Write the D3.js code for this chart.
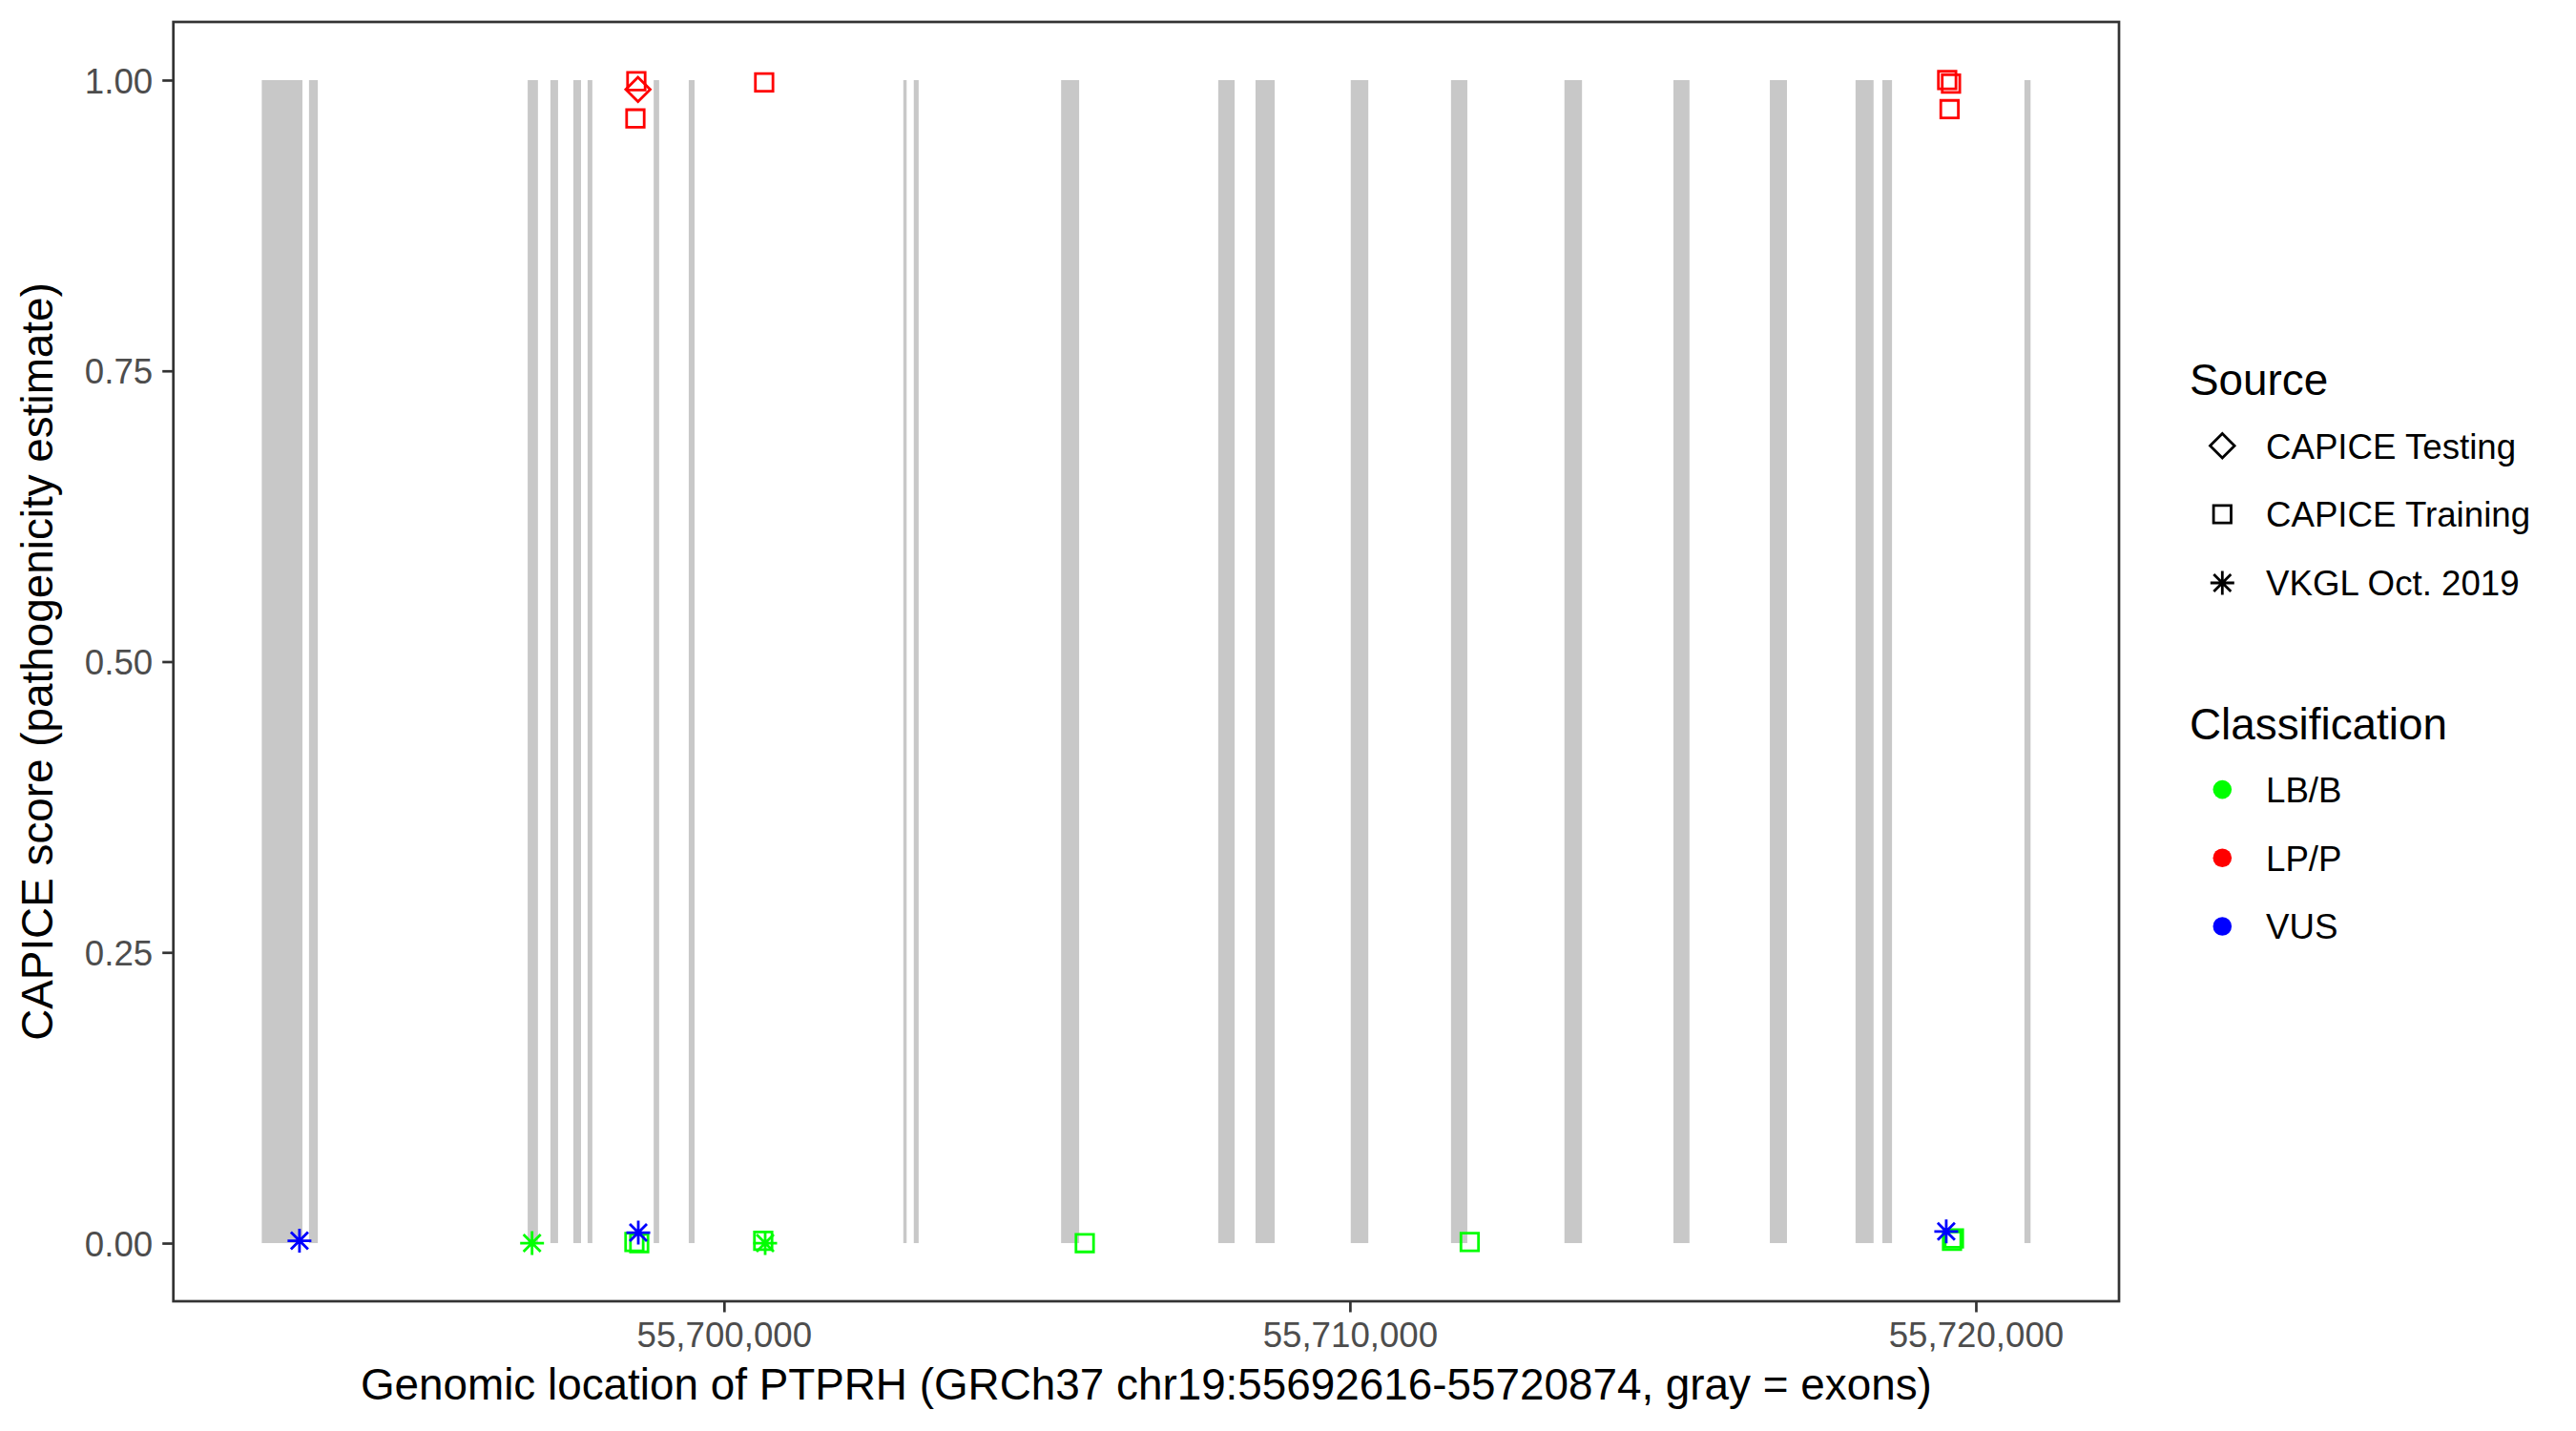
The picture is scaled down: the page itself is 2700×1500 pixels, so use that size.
<!DOCTYPE html>
<html>
<head>
<meta charset="utf-8">
<script src="https://cdn.jsdelivr.net/npm/d3@7"></script>
<style>
  html, body { margin: 0; padding: 0; background: #ffffff; }
  svg { display: block; font-family: "Liberation Sans", Arial, Helvetica, sans-serif; }
</style>
</head>
<body>
<svg id="chart" width="2700" height="1500"></svg>
<script>
// ---- Data ----
const geneStart = 55692616;
const geneEnd = 55720874;

const exonStarts = [55692616, 55693370, 55696864, 55697227, 55697594, 55697821, 55698877, 55699437,
  55702865, 55703032, 55705386, 55707896, 55708492, 55710013, 55711615, 55713427, 55715169,
  55716709, 55718078, 55718506, 55720776];
const exonEnds = [55693265, 55693511, 55697028, 55697349, 55697716, 55697897, 55698964, 55699530,
  55702918, 55703110, 55705674, 55708158, 55708798, 55710294, 55711876, 55713708, 55715425,
  55716982, 55718366, 55718661, 55720874];

const variantPos = [55698569, 55698646, 55698600, 55698585, 55700642, 55700627, 55705764, 55711914,
  55719542, 55719603, 55719580, 55719619, 55719650, 55698626,
  55693218, 55696934, 55698631, 55700658, 55719527];
const variantScore = [0.001, 0.000, 0.999, 0.967, 0.998, 0.002, 0.000, 0.001,
  1.000, 0.997, 0.975, 0.002, 0.004, 0.992,
  0.002, 0.000, 0.009, 0.000, 0.010];
const variantSource = ["CAPICE Training", "CAPICE Training", "CAPICE Training", "CAPICE Training",
  "CAPICE Training", "CAPICE Training", "CAPICE Training", "CAPICE Training",
  "CAPICE Training", "CAPICE Training", "CAPICE Training", "CAPICE Training", "CAPICE Training",
  "CAPICE Testing",
  "VKGL Oct. 2019", "VKGL Oct. 2019", "VKGL Oct. 2019", "VKGL Oct. 2019", "VKGL Oct. 2019"];
const variantClass = ["LB/B", "LB/B", "LP/P", "LP/P", "LP/P", "LB/B", "LB/B", "LB/B",
  "LP/P", "LP/P", "LP/P", "LB/B", "LB/B", "LP/P",
  "VUS", "LB/B", "VUS", "LB/B", "VUS"];

const sourceLevels = ["CAPICE Testing", "CAPICE Training", "VKGL Oct. 2019"];
const classLevels = ["LB/B", "LP/P", "VUS"];
const classColors = ["#00FF00", "#FF0000", "#0000FF"];
const xTicks = [55700000, 55710000, 55720000];
const yTicks = [0, 0.25, 0.5, 0.75, 1];

const xTitle = "Genomic location of PTPRH (GRCh37 chr19:55692616-55720874, gray = exons)";
const yTitle = "CAPICE score (pathogenicity estimate)";

// ---- Layout ----
const panel = { left: 181.7, right: 2221, top: 23, bottom: 1364 };
const baseFont = 45.83, smallFont = 36.67;

const svg = d3.select("#chart");
svg.append("rect").attr("width", 2700).attr("height", 1500).attr("fill", "#ffffff");

const xPad = (geneEnd - geneStart) * 0.05;
const x = d3.scaleLinear().domain([geneStart - xPad, geneEnd + xPad]).range([panel.left, panel.right]);
const y = d3.scaleLinear().domain([-0.05, 1.05]).range([panel.bottom, panel.top]);
const color = d3.scaleOrdinal().domain(classLevels).range(classColors);

// Exons
const exons = exonStarts.map((s, i) => ({ s, e: exonEnds[i] }));
svg.append("g").selectAll("rect").data(exons).join("rect")
  .attr("x", d => x(d.s))
  .attr("width", d => x(d.e) - x(d.s))
  .attr("y", y(1))
  .attr("height", y(0) - y(1))
  .attr("fill", "#C8C8C8");

// Point shapes
const SQ = 9.2, DM = 12.8, AST = 12.5, ASTD = 9, SW = 2.8;
function shapePath(src) {
  if (src === "CAPICE Training") {
    return `M${-SQ},${-SQ}H${SQ}V${SQ}H${-SQ}Z`;
  } else if (src === "CAPICE Testing") {
    return `M0,${-DM}L${DM},0L0,${DM}L${-DM},0Z`;
  } else {
    return `M${-AST},0H${AST}M0,${-AST}V${AST}M${-ASTD},${-ASTD}L${ASTD},${ASTD}M${-ASTD},${ASTD}L${ASTD},${-ASTD}`;
  }
}

const variants = variantPos.map((p, i) => ({
  p, v: variantScore[i], src: variantSource[i], cls: variantClass[i]
}));
svg.append("g").selectAll("path").data(variants).join("path")
  .attr("transform", d => `translate(${x(d.p)},${y(d.v)})`)
  .attr("d", d => shapePath(d.src))
  .attr("fill", "none")
  .attr("stroke", d => color(d.cls))
  .attr("stroke-width", SW)
  .attr("stroke-linecap", "butt");

// Panel border
svg.append("rect")
  .attr("x", panel.left).attr("y", panel.top)
  .attr("width", panel.right - panel.left).attr("height", panel.bottom - panel.top)
  .attr("fill", "none").attr("stroke", "#333333").attr("stroke-width", 2.7);

// Axes
const xAxis = svg.append("g").attr("transform", `translate(0,${panel.bottom})`)
  .call(d3.axisBottom(x).tickValues(xTicks).tickFormat(d3.format(",")).tickSize(11.5).tickPadding(10));
const yAxis = svg.append("g").attr("transform", `translate(${panel.left},0)`)
  .call(d3.axisLeft(y).tickValues(yTicks).tickFormat(d3.format(".2f")).tickSize(11.5).tickPadding(10));
[xAxis, yAxis].forEach(a => {
  a.select(".domain").remove();
  a.selectAll(".tick line").attr("stroke", "#333333").attr("stroke-width", 2.7);
  a.selectAll(".tick text").attr("fill", "#4D4D4D").attr("font-size", smallFont)
    .attr("font-family", "Liberation Sans, Arial, sans-serif");
});
yAxis.selectAll(".tick text").attr("dy", "0.36em");

// Axis titles
svg.append("text")
  .attr("x", (panel.left + panel.right) / 2).attr("y", 1467)
  .attr("text-anchor", "middle").attr("font-size", baseFont).attr("fill", "#000")
  .text(xTitle);
svg.append("text")
  .attr("transform", `translate(55,${(panel.top + panel.bottom) / 2}) rotate(-90)`)
  .attr("text-anchor", "middle").attr("font-size", baseFont).attr("fill", "#000")
  .text(yTitle);

// Legends
const legX = 2295, keyX = 2329.3, textX = 2375;
const leg = svg.append("g");
leg.append("text").attr("x", legX).attr("y", 414).attr("font-size", baseFont).attr("fill", "#000").text("Source");
const srcY = [467.3, 539, 611];
leg.selectAll("path.src").data(sourceLevels).join("path").attr("class", "src")
  .attr("transform", (d, i) => `translate(${keyX},${srcY[i]})`)
  .attr("d", d => shapePath(d))
  .attr("fill", "none").attr("stroke", "#000").attr("stroke-width", SW);
leg.selectAll("text.src").data(sourceLevels).join("text").attr("class", "src")
  .attr("x", textX).attr("y", (d, i) => srcY[i]).attr("dy", "0.36em")
  .attr("font-size", smallFont).attr("fill", "#000").text(d => d);

leg.append("text").attr("x", legX).attr("y", 774.5).attr("font-size", baseFont).attr("fill", "#000").text("Classification");
const clsY = [827.6, 899.3, 971];
leg.selectAll("circle.cls").data(classLevels).join("circle").attr("class", "cls")
  .attr("cx", keyX).attr("cy", (d, i) => clsY[i]).attr("r", 9.8)
  .attr("fill", d => color(d));
leg.selectAll("text.cls").data(classLevels).join("text").attr("class", "cls")
  .attr("x", textX).attr("y", (d, i) => clsY[i]).attr("dy", "0.36em")
  .attr("font-size", smallFont).attr("fill", "#000").text(d => d);
</script>
</body>
</html>
